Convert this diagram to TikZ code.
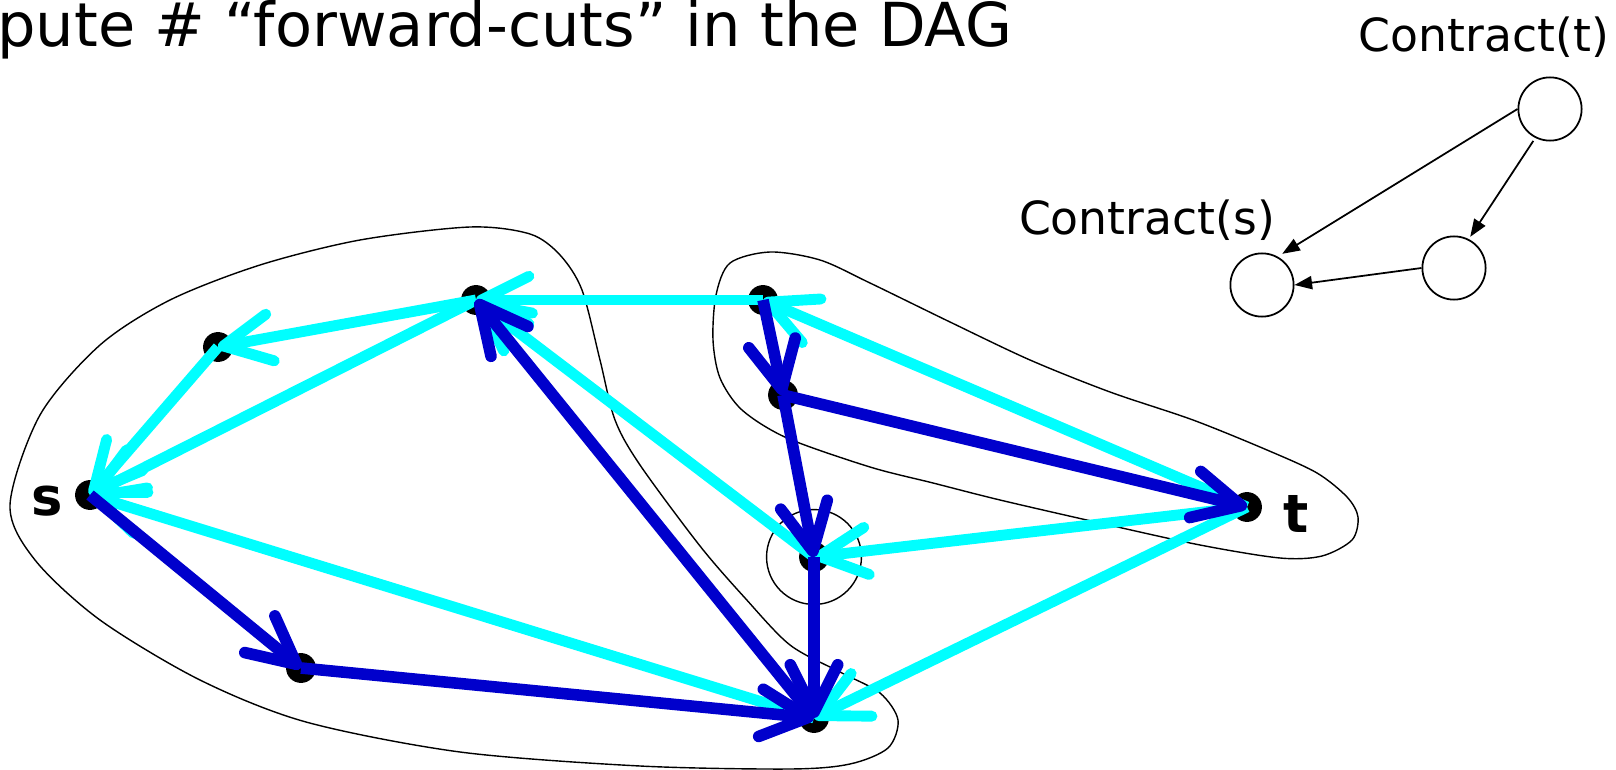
\documentclass[tikz,border=0pt]{standalone}
\usepackage{fontspec}
\setmainfont{DejaVu Sans}
\usetikzlibrary{arrows.meta}
\usepackage{xcolor}
\definecolor{cutcyan}{RGB}{0,255,255}
\definecolor{cutblue}{RGB}{0,0,204}

\begin{document}
\begin{tikzpicture}[
  x=0.02cm, y=-0.02cm,
  vtx/.style={circle, fill=black, inner sep=0pt, minimum size=17pt},
  blob/.style={draw=black, line width=0.8pt},
  backedge/.style={draw=cutcyan, line width=6.2pt, -{Straight Barb[length=27pt, width=27pt, round]}},
  fwdedge/.style={draw=cutblue, line width=6.6pt, -{Straight Barb[length=27pt, width=27pt, round]}},
  cnode/.style={circle, draw=black, line width=1pt, minimum size=36pt, inner sep=0pt},
  arr/.style={-{Triangle[length=10pt, width=7.5pt]}, line width=1pt},
  lbl/.style={font=\fontsize{26}{30}\selectfont, anchor=base, inner sep=0pt},
  vlbl/.style={font=\bfseries\fontsize{30}{34}\selectfont, anchor=base, inner sep=0pt}
]
\useasboundingbox (0,0) rectangle (1616,770);

\node[anchor=base west, font=\fontsize{34.5}{40}\selectfont, inner sep=0pt] (title) at (-3,47) {pute \# “forward-cuts” in the DAG};

% contracted DAG
\node[cnode] (ct) at (1550,109) {};
\node[cnode] (cm) at (1454,268) {};
\node[cnode] (cs) at (1262,285) {};
\node[lbl] (ctl) at (1484,52) {Contract(t)};
\node[lbl] (csl) at (1147,235) {Contract(s)};
\draw[arr, shorten >=3pt] (ct.west) -- (cs.61);
\draw[arr, shorten <=2pt, shorten >=1.5pt] (ct.243) -- (cm.63);
\draw[arr] (cm.west) -- (cs.east);

% the two sides of the cut
\draw[blob] plot[smooth cycle] coordinates {
  (10,505) (40,415) (100,345) (170,300) (260,265) (360,240) (470,227)
  (530,234) (560,255) (582,290) (600,360) (615,420) (640,465) (700,546)
  (745,598) (790,645) (840,672) (880,693) (898,720) (888,748) (850,764)
  (790,769) (640,766) (460,752) (306,722) (200,680) (100,620) (35,560)};
\draw[blob] plot[smooth cycle] coordinates {
  (716,295) (730,263) (770,252) (820,260) (870,283) (950,322) (1030,360)
  (1110,392) (1193,420) (1267,450) (1317,473) (1347,497) (1358,517)
  (1352,540) (1322,556) (1280,558) (1200,545) (1100,523) (1000,500)
  (933,483) (870,467) (787,438) (742,410) (720,378) (713,340)};

% vertices
\node[vtx] (s) at (90,495) {};
\node[vtx] (a) at (218,347) {};
\node[vtx] (b) at (476,300) {};
\node[vtx] (c) at (763,300) {};
\node[vtx] (d) at (783,395) {};
\node[vtx] (e) at (814,557) {};
\node[vtx] (f) at (301,668) {};
\node[vtx] (g) at (814,718) {};
\node[vtx] (t) at (1247,507) {};
\node[circle, draw, line width=0.8pt, minimum size=54pt] (ering) at (e.center) {};
\node[vlbl] (slbl) at (47,515) {s};
\node[vlbl] (tlbl) at (1296,532) {t};

% edges
\foreach \a/\b in {b/a, a/s, b/s, g/s, c/b, e/b, t/c, t/e, t/g}
  \draw[backedge] (\a.center) -- (\b.center);
\foreach \a/\b in {s/f, f/g, g/b, c/d, d/e, d/t, e/g}
  \draw[fwdedge] (\a.center) -- (\b.center);
\end{tikzpicture}
\end{document}
